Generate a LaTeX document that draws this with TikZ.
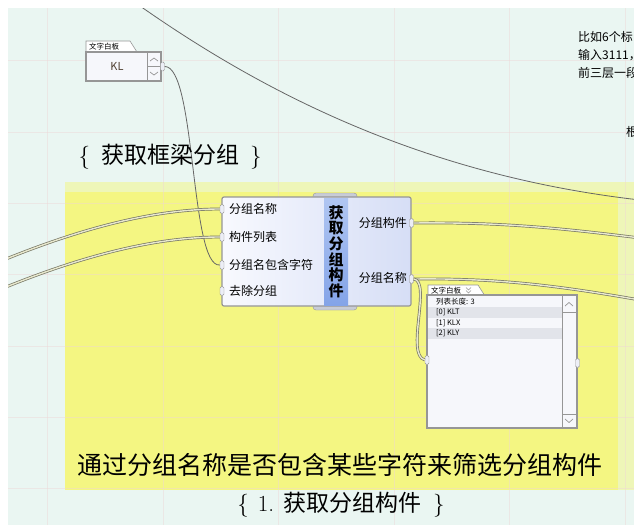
\documentclass[tikz,border=0pt]{standalone}
\usepackage{tikz}
\usetikzlibrary{shapes.geometric, arrows}
\usepackage{fontspec}
\newfontfamily\cjk{Noto Sans CJK SC}
\definecolor{canvas}{RGB}{234,246,242}
\definecolor{gridpink}{RGB}{238,214,214}
\definecolor{groupyellow}{RGB}{244,246,130}
\definecolor{grouppale}{RGB}{238,246,184}
\definecolor{edgegray}{RGB}{150,150,150}
\definecolor{wiredark}{RGB}{118,118,100}
\definecolor{wirelight}{RGB}{232,232,206}
\definecolor{rowgray}{RGB}{226,228,234}
\tikzstyle{gridline} = [gridpink, line width=0.6pt, opacity=0.45]
\tikzstyle{wire} = [draw=wiredark, line width=0.7pt, double=wirelight, double distance=1.4pt]
\tikzstyle{thin_wire} = [draw=black!60, line width=0.8pt]
\tikzstyle{component} = [rectangle, rounded corners=2pt, draw=edgegray, line width=1.2pt, left color={rgb,255:red,248;green,249;blue,254}, right color={rgb,255:red,214;green,222;blue,246}]
\tikzstyle{nickname} = [rectangle, inner sep=0pt, top color={rgb,255:red,176;green,198;blue,242}, bottom color={rgb,255:red,132;green,164;blue,232}, text centered, align=center, font=\cjk\bfseries\fontsize{15}{15.6}\selectfont]
\tikzstyle{tab_bump} = [rectangle, rounded corners=3pt, draw=edgegray, fill={rgb,255:red,200;green,204;blue,214}, inner sep=0pt]
\tikzstyle{port} = [inner sep=0pt, font=\cjk\fontsize{12}{12}\selectfont]
\tikzstyle{grip} = [rectangle, rounded corners=1.5pt, draw=edgegray, fill={rgb,255:red,236;green,238;blue,246}, minimum width=4pt, minimum height=9pt, inner sep=0pt]
\tikzstyle{panel} = [rectangle, draw=edgegray, line width=1.2pt, fill={rgb,255:red,246;green,247;blue,251}, inner sep=0pt]
\tikzstyle{panel_tab} = [draw=edgegray, line width=0.6pt, fill=white]
\tikzstyle{small_text} = [inner sep=0pt, font=\cjk\fontsize{7.5}{8}\selectfont]
\tikzstyle{chevron} = [draw=edgegray, line width=0.7pt]
\tikzstyle{note} = [inner sep=0pt, font=\cjk\fontsize{12}{12}\selectfont]

\begin{document}
\begin{tikzpicture}[x=1pt, y=-1pt]
\useasboundingbox (0,0) rectangle (634,525);
\fill[white] (0,0) rectangle (634,525);
\begin{scope}
\clip (8,8) rectangle (634,525);
\fill[canvas] (8,8) rectangle (634,525);
% group
\fill[grouppale] (65,182) rectangle (640,490);
\fill[groupyellow] (65,192) rectangle (618,490);
\foreach \gx in {47,163,278,394,509,625} \draw[gridline] (\gx,8) -- (\gx,525);
\foreach \gy in {60,132,203,274,346,417,488} \draw[gridline] (8,\gy) -- (634,\gy);

% loose wire ends
\coordinate (top_a) at (140,6);
\coordinate (top_b) at (640,200);
\coordinate (src_a) at (6,259);
\coordinate (src_b) at (6,287);
\coordinate (out_a) at (640,238);
\coordinate (out_b) at (640,300);
\draw [thin_wire] (top_a) .. controls (260,90) and (420,175) .. (top_b);

% notes (cut by the canvas edge)
\node (note_1) [note, anchor=west] at (578,37) {比如6个标};
\node (note_2) [note, anchor=west] at (578,55) {输入3111，};
\node (note_3) [note, anchor=west] at (578,73) {前三层一段};
\node (note_4) [note, anchor=west] at (626,132) {根};

% KL panel
\draw [panel_tab] (86,52) -- (86,41) -- (130,41) -- (137,52) -- cycle;
\node (kl_tab) [small_text, anchor=west] at (89,46.5) {文字白板};
\node (kl_panel) [panel, minimum width=75pt, minimum height=29pt] at (123.5,66.5) {};
\node (kl_text) [font=\cjk\fontsize{11}{11}\selectfont, text={rgb,255:red,80;green,64;blue,50}] at (117,66) {KL};
\draw [edgegray, line width=0.8pt] (147,52) -- (147,81) (147,66.5) -- (161,66.5);
\draw [chevron] (150,61) -- (154,58) -- (158,61);
\draw [chevron] (150,72) -- (154,75) -- (158,72);
\node (kl_out) [grip] at (162.5,66.5) {};

% component
\node (comp_tab) [tab_bump, minimum width=44pt, minimum height=117pt] at (335,251.5) {};
\node (comp) [component, minimum width=189pt, minimum height=109pt] at (316.5,251.5) {};
\node (nick) [nickname, minimum width=24pt, minimum height=107pt] at (336,251.5) {获\\取\\分\\组\\构\\件};
\node (in_name) [port, anchor=west] at (229,209) {分组名称};
\node (in_list) [port, anchor=west] at (229,237) {构件列表};
\node (in_char) [port, anchor=west] at (229,265) {分组名包含字符};
\node (in_drop) [port, anchor=west] at (229,291) {去除分组};
\node (out_comp) [port, anchor=east] at (407,223) {分组构件};
\node (out_name) [port, anchor=east] at (407,278) {分组名称};
\node (g_name) [grip] at (222,209) {};
\node (g_list) [grip] at (222,237) {};
\node (g_char) [grip] at (222,265) {};
\node (g_drop) [grip] at (222,291) {};
\node (g_comp) [grip] at (411.5,223) {};
\node (g_out) [grip] at (411.5,279) {};

% list panel
\draw [panel_tab] (428,296) -- (428,285) -- (478,285) -- (485,296) -- cycle;
\node (list_tab) [small_text, anchor=west] at (431,290.5) {文字白板};
\draw [chevron, line width=0.5pt] (466,287.5) -- (468.5,290) -- (471,287.5) (466,290.5) -- (468.5,293) -- (471,290.5);
\node (list_panel) [panel, minimum width=150pt, minimum height=133pt] at (502,361.5) {};
\fill [rowgray] (428,307) rectangle (562,318);
\fill [rowgray] (428,328) rectangle (562,339);
\node (list_len) [small_text, anchor=west] at (436,301.5) {列表长度: 3};
\node (row_0) [small_text, anchor=west] at (436,312.5) {[0] KLT};
\node (row_1) [small_text, anchor=west] at (436,323) {[1] KLX};
\node (row_2) [small_text, anchor=west] at (436,333.5) {[2] KLY};
\draw [edgegray, line width=0.8pt] (562,296) -- (562,427) (562,312) -- (576,312) (562,414) -- (576,414);
\draw [chevron] (565,306) -- (569,302.5) -- (573,306);
\draw [chevron] (565,419) -- (569,422.5) -- (573,419);
\node (list_in) [grip] at (427,360) {};
\node (list_out) [grip] at (577.5,363) {};

% wires
\draw [thin_wire] (kl_out.east) .. controls (196,66) and (190,268) .. (g_char.west);
\draw [wire] (src_a) .. controls (90,225) and (160,209) .. (g_name.west);
\draw [wire] (src_b) .. controls (90,253) and (160,237) .. (g_list.west);
\draw [wire] (g_comp.east) .. controls (500,222) and (560,228) .. (out_a);
\draw [wire] (g_out.east) .. controls (500,278) and (560,286) .. (out_b);
\draw [wire] (g_out.east) .. controls (432,281) and (405,355) .. (list_in.west);

% captions
\node (group_title) [font=\fontsize{23}{23}\selectfont] at (170,157) {\{\hspace{11pt}{\cjk 获取框梁分组}\hspace{11pt}\}};
\node (group_desc) [font=\cjk\fontsize{25}{25}\selectfont] at (340,465) {通过分组名称是否包含某些字符来筛选分组构件};
\node (group_name) [font=\fontsize{23}{23}\selectfont] at (341,505) {\{\hspace{9pt}1.\hspace{9pt}{\cjk 获取分组构件}\hspace{12pt}\}};
\end{scope}
\end{tikzpicture}
\end{document}
